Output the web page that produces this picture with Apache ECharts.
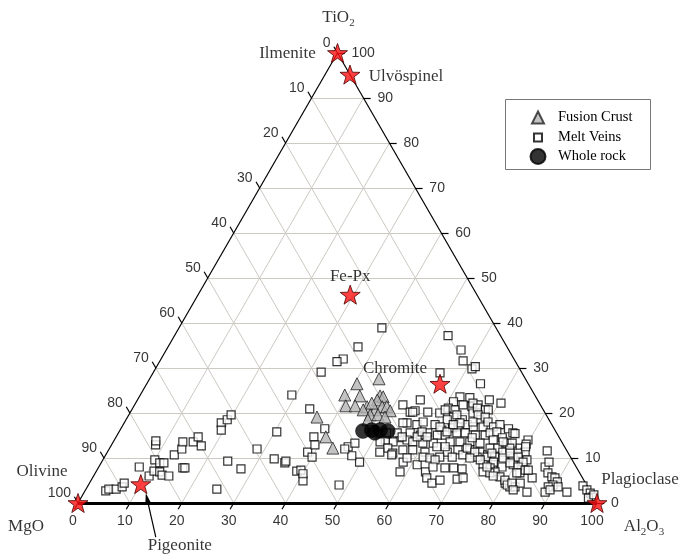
<!DOCTYPE html>
<html><head><meta charset="utf-8">
<script src="https://cdn.jsdelivr.net/npm/echarts@6/dist/echarts.min.js"></script>
<style>html,body{margin:0;padding:0;background:#fff}#c{width:692px;height:556px}</style>
</head><body><div id="c"></div>
<script>
// ---------- DATA (ternary compositions, [TiO2, Al2O3]; MgO = 100 - TiO2 - Al2O3) ----------
const ticks = [0,10,20,30,40,50,60,70,80,90,100];
const vertexNames = ['TiO2','MgO','Al2O3'];
const vertexComps = [[100,0],[0,0],[0,100]];
const mineralNames = ['Ilmenite','Ulvöspinel','Fe-Px','Chromite','Olivine','Pigeonite','Plagioclase'];
const mineralComps = [[100,0],[95.2,4.8],[46.3,29.3],[26.5,56.5],[0,0],[4.2,10.0],[0,100]];
const wholeRock = [[16.0,46.9],[16.2,48.5],[16.2,50.1],[16.0,51.7],[15.6,49.4]];
const fusionCrust = [[26.5,40.5],[27.6,44.2],[24.0,39.4],[23.8,42.4],[23.8,46.3],[23.6,47.0],[22.9,46.2],[21.6,40.8],[21.6,42.6],[21.4,45.0],[20.7,44.6],[20.7,46.9],[21.4,47.9],[21.4,48.8],[20.5,49.9],[19.1,36.5],[14.7,40.4],[12.2,43.0],[19.6,46.5],[19.6,48.0],[18.5,46.6],[19.1,49.6],[22.2,45.5]];
const meltVeins = [
[2.7,4.0],[3.1,4.4],[3.1,5.8],[3.6,6.7],[4.4,6.7],[8.0,7.8],[12.9,8.5],[13.8,8.1],[9.6,10.0],[8.9,11.3],[8.9,12.1],[6.0,10.7],[7.1,11.1],[6.9,12.3],[6.2,13.1],[6.0,14.5],[10.7,13.2],[12.0,14.0],[13.6,13.4],[13.6,15.4],[14.7,15.8],[12.7,17.4],[7.8,16.3],[7.8,16.7],[17.8,18.7],[18.5,19.5],[19.6,19.7],[16.2,19.5],[3.1,25.2],[9.3,24.2],[7.6,27.6],[12.0,28.5],[15.8,30.4],[9.8,32.9],[8.9,35.4],[9.3,35.4],[7.1,38.6],[7.3,39.3],[4.9,40.9],[6.5,40.1],[11.3,38.6],[24.0,29.2],[20.9,34.2],[14.7,38.1],[12.9,39.2],[10.2,40.0],[16.5,39.3],[4.0,48.3],[9.1,49.7],[10.5,47.5],[12.5,45.8],[12.0,45.4],[13.3,46.7],
[38.9,39.1],[34.7,36.6],[32.0,35.1],[31.4,34.2],[29.1,32.3],[37.2,52.7],[34.0,56.8],[31.6,58.4],[29.8,61.0],[30.3,61.4],[26.5,64.3],[28.9,55.3],[22.9,67.8],[22.2,70.4],[21.8,51.7],[22.9,54.5],[20.2,53.9],[20.5,54.7],[23.6,61.8],[23.4,63.8],[22.5,61.1],
[20.2,54.4],[20.2,57.3],[20.0,59.7],[21.1,60.8],[20.7,62.3],[21.8,63.3],[21.4,65.2],[21.8,66.2],[20.7,68.1],[20.0,66.1],[19.1,62.8],[18.5,61.9],[18.5,64.8],[18.5,68.2],[17.8,54.5],[17.4,56.6],[18.0,57.5],[17.4,60.1],[16.2,62.0],[16.7,63.8],[16.9,64.8],[17.4,66.3],[16.9,67.7],[16.9,69.6],[15.6,56.2],[15.1,58.4],[15.6,59.6],[15.1,61.7],[15.1,63.2],[15.6,65.2],[15.6,66.8],[15.1,69.0],[15.1,70.9],[14.5,54.8],[14.0,56.4],[13.6,57.7],[13.3,59.8],[13.3,61.8],[13.6,64.9],[13.6,66.8],[13.6,68.7],[13.3,70.8],[13.6,53.9],[14.0,52.2],[13.6,51.4],[12.2,53.6],[11.8,56.7],[11.8,58.6],[11.3,61.2],[12.5,62.9],[11.3,65.5],[11.8,67.3],[11.8,69.6],[11.3,71.8],[11.3,52.5],[11.1,55.1],[10.2,64.6],[10.2,67.0],[10.7,68.8],[10.2,71.8],[10.7,73.6],[15.6,53.7],[15.6,51.7],
[10.7,55.1],[9.1,58.1],[10.0,58.4],[6.9,58.6],[8.5,61.1],[10.2,61.4],[10.0,62.8],[9.6,64.0],[6.9,63.5],[5.6,64.4],[4.4,66.0],[7.8,66.8],[8.0,64.4],[17.8,53.7],[14.7,55.1],[14.7,58.0],[15.8,58.4],[14.7,59.9],[16.9,61.3],[15.8,63.2],[20.7,60.4],
[22.2,65.0],[21.1,66.4],[20.7,68.7],[19.6,67.3],[19.1,68.9],[18.0,67.1],[18.0,70.0],[16.9,71.6],[17.4,72.6],[16.5,74.7],[15.6,76.0],[15.6,71.6],[15.8,72.8],[14.0,73.0],[14.5,74.5],[13.3,76.0],[13.3,77.0],[12.2,73.3],[12.2,74.8],[11.3,76.2],[12.2,77.1],[12.2,79.1],[14.0,79.7],[13.1,79.8],[11.3,80.5],[11.1,79.2],[10.2,73.7],[10.2,75.2],[10.0,76.9],[10.0,78.8],[9.6,81.7],[8.5,73.8],[8.5,75.7],[8.0,77.7],[8.5,79.6],[11.6,84.6],
[19.6,63.2],[17.8,64.7],[17.4,63.6],[15.4,76.5],[12.5,80.0],[14.5,68.7],[13.6,75.1],[12.5,64.5],[12.2,68.9],[11.3,70.8],[11.1,74.2],[11.1,77.7],[10.2,79.7],[9.1,81.2],[10.0,70.5],[9.6,72.7],[9.1,75.5],[8.9,78.8],[8.0,80.8],[7.8,75.5],[6.9,76.9],[5.8,78.4],[4.4,80.1],[3.6,81.4],[3.6,82.4],[4.4,83.0],[2.4,85.3],[6.7,81.8],[7.3,82.5],[7.8,68.5],[7.6,70.2],[5.3,70.4],[5.1,67.2],[5.6,71.4],[8.0,86.0],[9.1,86.2],
[6.9,74.6],[6.7,76.0],[6.0,77.0],[5.1,79.7],[4.0,80.7],[4.4,81.4],[2.9,82.4],[6.7,81.2],[5.6,84.7],[7.3,83.1],[8.0,74.8],
[6.7,87.2],[5.8,88.4],[5.6,89.1],[4.7,90.0],[4.0,89.5],[3.6,88.8],[2.4,88.8],[2.9,89.5],[3.6,90.7],[2.4,93.0],[3.8,95.4],[2.9,96.6],[2.2,97.6],[1.3,98.4],[1.1,97.8],[1.8,98.5]
];

// ---------- STYLE ----------
const SERIF = 'Liberation Serif, Times New Roman, serif';
const SANS = 'Liberation Sans, Arial, sans-serif';
const GRIDC = '#cdc9c3';
const mineralLabelOffset = {
  'Ilmenite':[-50,1],'Ulvöspinel':[56,2],'Fe-Px':[0,-18],'Chromite':[-45,-15],
  'Olivine':[-36,-31],'Pigeonite':[39,61],'Plagioclase':[43,-23]
};
const vertexLabelOffset = {'TiO2':[1,-35],'MgO':[-52,24],'Al2O3':[47,24]};
const vertexLabelText = {'TiO2':'{m|TiO}{s|2}','MgO':'{m|MgO}','Al2O3':'{m|Al}{s|2}{m|O}{s|3}'};
const STAR = 'path://M0,-10L2.35,-3.24L9.51,-3.09L3.8,1.24L5.88,8.09L0,4L-5.88,8.09L-3.8,1.24L-9.51,-3.09L-2.35,-3.24Z';
const TL = 1.4; // tick length (composition units)
const legendText = pad => ({fontFamily:SERIF, fontSize:14.5, color:'#000', padding:[0,0,0,pad]});

// ---------- PROJECTION (ternary -> cartesian value axes) ----------
const SQ = Math.sqrt(3)/2;
const proj = (t, a) => [a + t/2, t*SQ];

const gridLines = [];
ticks.filter(k => k > 0 && k < 100).forEach(k => {
  gridLines.push({coords:[proj(k,0), proj(k,100-k)]});        // TiO2 = k
  gridLines.push({coords:[proj(0,k), proj(100-k,k)]});        // Al2O3 = k
  gridLines.push({coords:[proj(0,100-k), proj(100-k,0)]});    // MgO = k
});
const edges = [
  {coords:[proj(0,0), proj(100,0)], lineStyle:{width:1.2}},
  {coords:[proj(100,0), proj(0,100)], lineStyle:{width:1.2}},
  {coords:[proj(0,0), proj(0,100)], lineStyle:{width:3}}
];
const tickSegs = [];
ticks.forEach(k => {
  tickSegs.push({coords:[proj(k,100-k), proj(k,100-k+TL)]});       // right (TiO2)
  tickSegs.push({coords:[proj(100-k,0), proj(100-k+TL,-TL)]});     // left (MgO)
  tickSegs.push({coords:[proj(0,k), proj(-TL,k)]});                // bottom (Al2O3)
});

const labelSeries = (data, pos, align) => ({
  type:'scatter', symbolSize:0, silent:true, z:5, clip:false,
  data, label:{show:true, formatter:'{b}', position:pos, align, verticalAlign:'middle',
    fontFamily:SANS, fontSize:14, color:'#000'}
});

const chart = echarts.init(document.getElementById('c'));
chart.setOption({
  animation:false,
  backgroundColor:'#fff',
  grid:{left:78, top:53, width:519, height:450},
  xAxis:{type:'value', min:0, max:100, show:false},
  yAxis:{type:'value', min:0, max:100*SQ, show:false},
  legend:[
    {data:['Fusion Crust'], left:531, top:110, itemWidth:12, itemHeight:12, padding:0, z:5,
     textStyle:legendText(9)},
    {data:['Melt Veins'], left:533, top:130, itemWidth:8, itemHeight:8, padding:0, z:5,
     textStyle:legendText(11)},
    {data:['Whole rock'], left:529.5, top:148, itemWidth:15, itemHeight:15, padding:0, z:5,
     textStyle:legendText(7.5)}
  ],
  series:[
    {type:'lines', coordinateSystem:'cartesian2d', silent:true, z:1, clip:false,
     lineStyle:{color:GRIDC, width:1, opacity:1}, data:gridLines},
    {type:'lines', coordinateSystem:'cartesian2d', silent:true, z:2, clip:false,
     lineStyle:{color:'#000', width:1.2, opacity:1}, data:tickSegs},
    {type:'lines', coordinateSystem:'cartesian2d', silent:true, z:2, clip:false,
     lineStyle:{color:'#000', opacity:1}, data:edges},
    labelSeries(ticks.map(k => ({name:String(k), value:proj(0,k)})), [-5,18], 'center'),
    labelSeries(ticks.map(k => ({name:String(k), value:proj(100-k,0)})), [-7,-10], 'right'),
    labelSeries(ticks.map(k => ({name:String(k), value:proj(k,100-k)})), [14,0], 'left'),
    {name:'Melt Veins', type:'scatter', z:6, clip:false, symbol:'rect', symbolSize:8,
     itemStyle:{color:'#fff', borderColor:'#000', borderWidth:1.2},
     data:meltVeins.map(d => proj(d[0], d[1]))},
    {name:'Fusion Crust', type:'scatter', z:7, clip:false, symbol:'triangle', symbolSize:12,
     itemStyle:{color:'#b4b4b4', borderColor:'#222', borderWidth:1},
     data:fusionCrust.map(d => proj(d[0], d[1]))},
    {name:'Whole rock', type:'scatter', z:8, clip:false, symbol:'circle', symbolSize:15,
     itemStyle:{color:'#000', borderColor:'#000', borderWidth:0.5},
     data:wholeRock.map(d => proj(d[0], d[1]))},
    {name:'Minerals', type:'scatter', z:9, clip:false, symbol:STAR, symbolSize:20, symbolKeepAspect:true,
     itemStyle:{color:'#ff1010', borderColor:'#4a0000', borderWidth:1},
     data:mineralNames.map((n,i) => ({name:n, value:proj(mineralComps[i][0], mineralComps[i][1]),
       label:{offset:mineralLabelOffset[n]}})),
     label:{show:true, formatter:'{b}', position:'inside', align:'center', verticalAlign:'middle',
       fontFamily:SERIF, fontSize:17, color:'#000'}},
    {type:'scatter', symbolSize:0, silent:true, z:9, clip:false,
     data:vertexNames.map((n,i) => ({name:n, value:proj(vertexComps[i][0], vertexComps[i][1]),
       label:{offset:vertexLabelOffset[n], formatter:vertexLabelText[n]}})),
     label:{show:true, position:'inside', align:'center', verticalAlign:'middle',
       rich:{m:{fontFamily:SERIF, fontSize:17, color:'#000'},
             s:{fontFamily:SERIF, fontSize:11, color:'#000', padding:[10,0,0,0]}}}}
  ]
});

// Pigeonite pointer arrow (relative to the Pigeonite point) + legend frame
const pi = mineralNames.indexOf('Pigeonite');
const pp = chart.convertToPixel({gridIndex:0}, proj(mineralComps[pi][0], mineralComps[pi][1]));
const x1 = pp[0]+15, y1 = pp[1]+53, x2 = pp[0]+5, y2 = pp[1]+9;
const ang = Math.atan2(y2-y1, x2-x1), L = 11, W = 3;
const bx = x2 - L*Math.cos(ang), by = y2 - L*Math.sin(ang);
chart.setOption({graphic:[
  {type:'rect', z:0, shape:{x:505.5, y:99.5, width:145, height:70}, style:{fill:'#fff', stroke:'#777', lineWidth:1}},
  {type:'line', z:10, shape:{x1, y1, x2:bx, y2:by}, style:{stroke:'#000', lineWidth:1.2}},
  {type:'polygon', z:10, shape:{points:[[x2,y2],[bx + W*Math.sin(ang), by - W*Math.cos(ang)],[bx - W*Math.sin(ang), by + W*Math.cos(ang)]]},
   style:{fill:'#000'}}
]});
</script></body></html>
